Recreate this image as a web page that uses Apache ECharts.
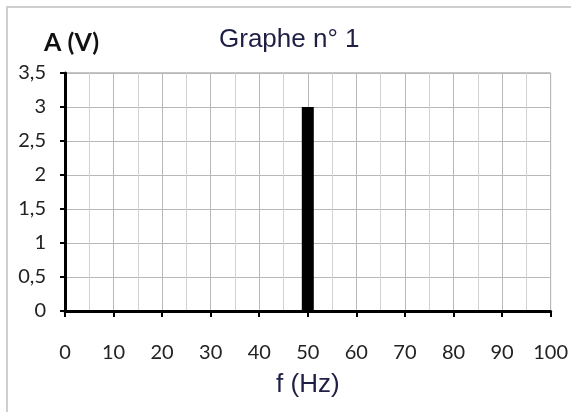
<!DOCTYPE html>
<html lang="fr">
<head>
    <meta charset="UTF-8">
    <title>Graphe n° 1</title>
    <script src="https://cdn.jsdelivr.net/npm/echarts@6/dist/echarts.min.js"></script>
    <style>
        body { margin: 0; background: #fff; }
        #app { position: absolute; left: 0; top: 0; width: 571px; height: 412px; }
        #frame { position: absolute; left: 6px; top: 6px; width: 700px; height: 500px;
                 border-top: 2px solid #cfcfcf; border-left: 2px solid #cfcfcf; pointer-events: none; }
    </style>
</head>
<body>
    <div id="app"></div>
    <div id="frame"></div>
    <script>
        // spectre : une seule raie
        var frequences = [50];
        var amplitudes = [3];
        var xTicks = [0, 100, 10];   // min, max, pas
        var yTicks = [0, 3.5, 0.5];

        var labelFont = 'Lato, "Open Sans", sans-serif';
        var arial = '"Liberation Sans", Arial, sans-serif';

        var data = [];
        for (var i = 0; i < frequences.length; i++) {
            data.push([frequences[i], amplitudes[i]]);
        }

        var myChart = echarts.init(document.getElementById('app'));
        var option = {
            animation: false,
            backgroundColor: '#fff',
            title: {
                text: 'Graphe n° 1',
                left: 214,
                top: 22,
                textStyle: {
                    fontFamily: arial,
                    fontWeight: 'normal',
                    fontSize: 26,
                    color: '#1f1f45'
                }
            },
            grid: {
                left: 65,
                right: 20,
                top: 73,
                bottom: 101,
                show: true,
                borderColor: '#8a8a8a',
                borderWidth: 1
            },
            xAxis: {
                type: 'value',
                min: xTicks[0],
                max: xTicks[1],
                interval: xTicks[2],
                name: 'f (Hz)',
                nameLocation: 'middle',
                nameGap: 61,
                nameTextStyle: {
                    fontFamily: arial,
                    fontSize: 26,
                    color: '#1f1f45'
                },
                axisLine: { lineStyle: { color: '#000', width: 3 } },
                axisTick: { show: true, inside: false, length: 6, lineStyle: { color: '#000', width: 2 } },
                axisLabel: {
                    margin: 32,
                    fontFamily: labelFont,
                    fontSize: 20,
                    color: '#222'
                },
                splitLine: { show: true, lineStyle: { color: '#b8b8b8', width: 1 } },
                minorTick: { show: false, splitNumber: 2 },
                minorSplitLine: { show: true, lineStyle: { color: '#d2d2d2', width: 1 } }
            },
            yAxis: {
                type: 'value',
                min: yTicks[0],
                max: yTicks[1],
                interval: yTicks[2],
                name: 'A (V)',
                nameLocation: 'end',
                nameGap: 18,
                nameTextStyle: {
                    fontFamily: labelFont,
                    fontWeight: 'bold',
                    fontSize: 25,
                    color: '#111',
                    align: 'left',
                    padding: [0, 0, 0, -21]
                },
                axisLine: { show: true, lineStyle: { color: '#000', width: 3 } },
                axisTick: { show: true, inside: false, length: 5, lineStyle: { color: '#000', width: 2 } },
                axisLabel: {
                    margin: 19,
                    fontFamily: labelFont,
                    fontSize: 20,
                    color: '#222',
                    formatter: function (v) {
                        return String(v).replace('.', ',');
                    }
                },
                splitLine: { show: true, lineStyle: { color: '#b8b8b8', width: 1 } }
            },
            series: [{
                type: 'bar',
                data: data,
                barWidth: 12,
                itemStyle: { color: '#000' }
            }]
        };
        myChart.setOption(option);
    </script>
</body>
</html>
